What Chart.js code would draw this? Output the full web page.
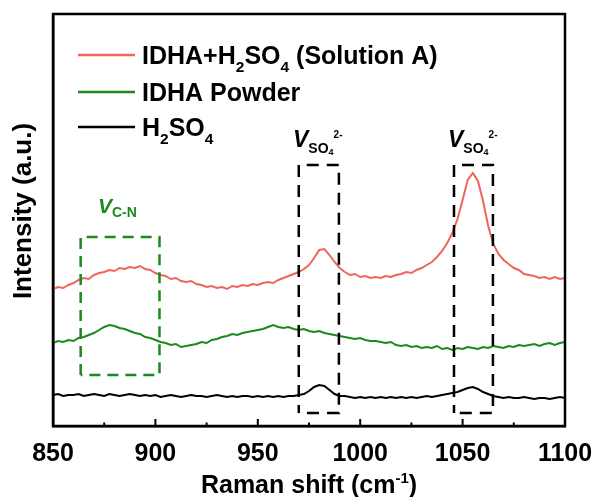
<!DOCTYPE html>
<html><head><meta charset="utf-8">
<script src="https://cdn.jsdelivr.net/npm/chart.js@4/dist/chart.umd.min.js"></script>
<style>html,body{margin:0;padding:0;background:#fff}</style>
</head><body>
<canvas id="c" width="595" height="497"></canvas>
<script>
// ---- data ----
const ramanShift = [850,852.5,855,857.5,860,862.5,865,867.5,870,872.5,875,877.5,880,882.5,885,887.5,890,892.5,895,897.5,
900,902.5,905,907.5,910,912.5,915,917.5,920,922.5,925,927.5,930,932.5,935,937.5,940,942.5,945,947.5,
950,952.5,955,957.5,960,962.5,965,967.5,970,972.5,975,977.5,980,982.5,985,987.5,990,992.5,995,997.5,
1000,1002.5,1005,1007.5,1010,1012.5,1015,1017.5,1020,1022.5,1025,1027.5,1030,1032.5,1035,1037.5,1040,1042.5,1045,1047.5,
1050,1052.5,1055,1057.5,1060,1062.5,1065,1067.5,1070,1072.5,1075,1077.5,1080,1082.5,1085,1087.5,1090,1092.5,1095,1097.5,1100];

const solutionA = [137,139,138,141,143,146,148,147,151,153,154,156,155,158,157,159,158,160,157,156,
153,151,150,147,148,145,144,145,142,141,139,140,138,139,137,140,139,141,140,142,
141,143,144,143,146,148,150,152,154,157,161,168,176,177,171,164,158,154,151,152,
149,150,148,149,148,150,149,151,152,154,153,156,158,161,164,169,175,183,193,207,
226,246,253,245,225,200,182,172,166,162,158,156,152,151,150,148,149,147,149,147,148];

const idhaPowder = [83,85,84,86,85,88,89,91,93,96,99,101,100,98,97,95,93,92,89,88,
86,84,83,81,82,79,80,81,82,84,83,86,87,89,90,92,91,93,94,95,
96,97,99,101,99,98,99,97,96,97,95,94,95,93,92,91,90,89,88,87,
88,86,85,85,84,83,84,81,80,81,79,80,78,79,78,80,77,78,76,78,
77,79,78,77,79,78,80,79,78,80,79,81,80,81,82,80,82,83,81,83,84];

const h2so4 = [31,32,30,31,31,32,30,31,32,31,30,32,31,30,31,32,31,30,31,30,
31,29,30,31,30,29,30,31,30,30,29,30,31,30,29,30,29,30,30,29,
30,29,30,29,30,29,30,30,31,32,35,39,41,40,36,32,30,30,29,28,
29,28,29,28,29,28,29,28,29,28,29,28,29,30,29,30,31,32,33,34,
36,38,39,37,34,32,30,29,28,29,28,28,29,28,27,28,28,27,28,29,28];

const xTickLabels = [850,900,950,1000,1050,1100];
const xMinorTicks = [875,925,975,1025,1075];

// legend labels as text runs (sub = subscript)
const legendSolutionA = [{t:'IDHA+H'},{t:'2',sub:true},{t:'SO'},{t:'4',sub:true},{t:' (Solution A)'}];
const legendPowder = [{t:'IDHA Powder'}];
const legendH2SO4 = [{t:'H'},{t:'2',sub:true},{t:'SO'},{t:'4',sub:true}];

// dashed annotation boxes [x0, x1, yLow, yHigh] in data units
const boxCN = [863.5, 902, 51, 189];
const boxSO4a = [970, 989.6, 13, 261];
const boxSO4b = [1045.8, 1064.8, 13, 261];

const RED = '#F0645E', GREEN = '#1B891B', BLACK = '#000000';
const FONT = "'Liberation Sans', Arial, Helvetica, sans-serif";

function pts(ys){ return ys.map((y,i)=>({x:ramanShift[i], y:y})); }

function drawRuns(ctx, x, y, runs, size, color){
  let cx = x;
  ctx.fillStyle = color;
  ctx.textBaseline = 'alphabetic';
  ctx.textAlign = 'left';
  for (const r of runs){
    const s = r.size || (r.sub ? size*0.62 : size);
    const dy = r.dy !== undefined ? r.dy : (r.sub ? size*0.3 : 0);
    ctx.font = (r.italic?'italic ':'') + 'bold ' + s + 'px ' + FONT;
    ctx.fillText(r.t, cx, y + dy);
    cx += ctx.measureText(r.t).width + (r.kern||0);
  }
  return cx - x;
}
function runsWidth(ctx, runs, size){
  let w = 0;
  for (const r of runs){
    const s = r.size || (r.sub ? size*0.62 : size);
    ctx.font = (r.italic?'italic ':'') + 'bold ' + s + 'px ' + FONT;
    w += ctx.measureText(r.t).width + (r.kern||0);
  }
  return w;
}

const decor = {
  id:'decor',
  afterDraw(chart){
    const ctx = chart.ctx, a = chart.chartArea;
    const xs = chart.scales.x, ys = chart.scales.y;
    ctx.save();
    // frame
    ctx.strokeStyle = BLACK; ctx.lineWidth = 2.5; ctx.setLineDash([]);
    ctx.strokeRect(a.left, a.top, a.right - a.left, a.bottom - a.top);
    // inward ticks on bottom axis
    ctx.lineWidth = 2;
    ctx.beginPath();
    xTickLabels.forEach(v=>{ const px = xs.getPixelForValue(v); ctx.moveTo(px, a.bottom); ctx.lineTo(px, a.bottom-7); });
    xMinorTicks.forEach(v=>{ const px = xs.getPixelForValue(v); ctx.moveTo(px, a.bottom); ctx.lineTo(px, a.bottom-3.5); });
    ctx.stroke();

    // dashed boxes
    function dbox(b, color, dash, offset){
      const x0 = xs.getPixelForValue(b[0]), x1 = xs.getPixelForValue(b[1]);
      const y0 = ys.getPixelForValue(b[3]), y1 = ys.getPixelForValue(b[2]);
      ctx.strokeStyle = color; ctx.lineWidth = 2.5; ctx.setLineDash(dash); ctx.lineDashOffset = offset;
      ctx.beginPath();
      ctx.moveTo(x0, y1); ctx.lineTo(x0, y0); ctx.lineTo(x1, y0); ctx.lineTo(x1, y1); ctx.lineTo(x0, y1);
      ctx.stroke();
    }
    dbox(boxCN, GREEN, [11,7], 0);
    dbox(boxSO4a, BLACK, [12,8], 4);
    dbox(boxSO4b, BLACK, [12,8], 4);
    ctx.setLineDash([]); ctx.lineDashOffset = 0;

    // annotation labels
    const vSO4 = [{t:'V',italic:true,size:23},{t:'SO',size:14,dy:6},{t:'4',size:9,dy:8},{t:'2-',size:10,dy:-9}];
    drawRuns(ctx, 293, 147, vSO4, 23, BLACK);
    drawRuns(ctx, 448, 147, vSO4, 23, BLACK);
    drawRuns(ctx, 98, 213, [{t:'V',italic:true,size:21},{t:'C-N',size:14,dy:4}], 21, GREEN);

    // legend
    const rows = [[legendSolutionA, RED, 55], [legendPowder, GREEN, 92], [legendH2SO4, BLACK, 127]];
    rows.forEach(r=>{
      ctx.strokeStyle = r[1]; ctx.lineWidth = 2.5;
      ctx.beginPath(); ctx.moveTo(78, r[2]); ctx.lineTo(135, r[2]); ctx.stroke();
      drawRuns(ctx, 142, r[2] + 9, r[0], 25, BLACK);
    });

    // axis titles
    const xt = [{t:'Raman shift (cm'},{t:'-1',size:15,dy:-10},{t:')'}];
    const w = runsWidth(ctx, xt, 25);
    drawRuns(ctx, (a.left + a.right)/2 - w/2, 493, xt, 25, BLACK);

    ctx.translate(31, 211);
    ctx.rotate(-Math.PI/2);
    ctx.font = 'bold 26px ' + FONT;
    ctx.fillStyle = BLACK; ctx.textAlign = 'center'; ctx.textBaseline = 'alphabetic';
    ctx.fillText('Intensity (a.u.)', 0, 0);
    ctx.restore();
  }
};

new Chart(document.getElementById('c'), {
  type: 'line',
  data: {
    datasets: [
      {label:'IDHA+H2SO4 (Solution A)', data: pts(solutionA), borderColor: RED},
      {label:'IDHA Powder', data: pts(idhaPowder), borderColor: GREEN},
      {label:'H2SO4', data: pts(h2so4), borderColor: BLACK}
    ].map(d=>Object.assign(d,{borderWidth:2, pointRadius:0, tension:0, fill:false}))
  },
  options: {
    responsive:false, animation:false, devicePixelRatio:1,
    layout:{padding:{top:14, right:30, left:0, bottom:0}},
    plugins:{legend:{display:false}, tooltip:{enabled:false}},
    scales:{
      x:{type:'linear', min:850, max:1100,
        afterBuildTicks(s){ s.ticks = xTickLabels.map(v=>({value:v})); },
        afterFit(s){ s.height = 71; s.paddingLeft = 0; s.paddingRight = 0; },
        grid:{display:false, drawTicks:false},
        border:{display:true, color:BLACK, width:2.5},
        ticks:{color:BLACK, padding:13, maxRotation:0, autoSkip:false,
          callback:(v)=>String(v),
          font:{family:FONT, size:25, weight:'bold'}}},
      y:{type:'linear', min:0, max:412,
        afterFit(s){ s.width = 53; s.paddingTop = 0; s.paddingBottom = 0; },
        grid:{display:false, drawTicks:false},
        border:{display:true, color:BLACK, width:2.5},
        ticks:{display:false}}
    }
  },
  plugins:[decor]
});
</script>
</body></html>
